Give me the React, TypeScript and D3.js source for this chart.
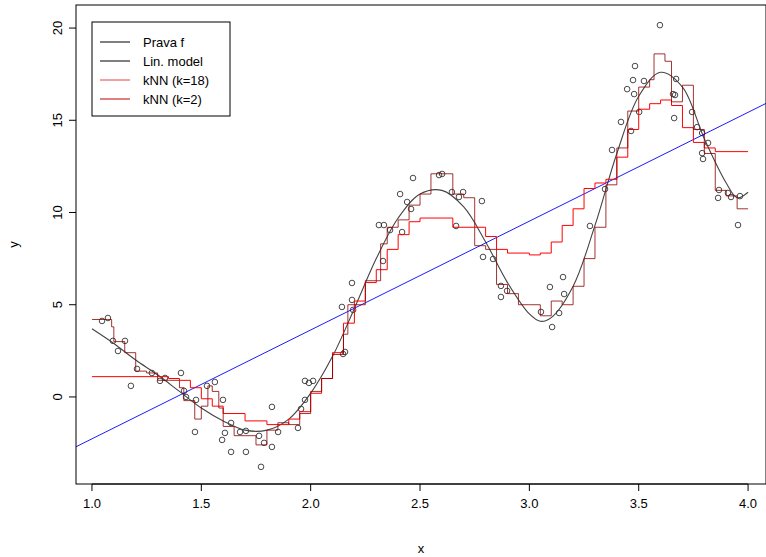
import React from "react"
import * as d3 from "d3"

const W = 766
const H = 557
const M = { top: 5, right: 0, bottom: 73, left: 76 }

// observed points [x, y]
const points: [number, number][] = [
  [1.046, 4.12], [1.073, 4.28], [1.096, 3.04], [1.151, 3.04], [1.119, 2.49], [1.206, 1.52],
  [1.178, 0.6], [1.274, 1.3], [1.311, 0.87], [1.334, 1.03], [1.407, 1.3], [1.421, 0.33],
  [1.43, 0.0], [1.471, -1.9], [1.476, -0.16], [1.526, 0.6], [1.562, 0.81], [1.599, -0.16],
  [1.636, -1.41], [1.608, -1.95], [1.595, -2.33], [1.636, -2.98], [1.677, -1.9], [1.704, -2.98],
  [1.704, -1.84], [1.764, -2.11], [1.787, -2.49], [1.773, -3.79], [1.823, -0.54], [1.823, -2.71],
  [1.851, -1.9], [1.942, -1.68], [1.974, 0.87], [1.974, -0.16], [1.992, 0.76], [2.011, 0.87],
  [1.956, -0.65], [2.148, 2.33], [2.157, 2.44], [2.143, 4.88], [2.194, 4.72], [2.189, 5.26],
  [2.189, 6.18], [2.331, 7.37], [2.312, 9.32], [2.335, 9.32], [2.363, 9.05], [2.418, 8.94],
  [2.409, 11.0], [2.441, 10.57], [2.459, 10.19], [2.468, 11.87], [2.587, 12.03], [2.601, 12.09],
  [2.646, 11.11], [2.697, 11.11], [2.678, 10.84], [2.783, 10.62], [2.665, 9.27], [2.788, 7.59],
  [2.834, 7.48], [2.87, 6.02], [2.87, 5.42], [2.898, 5.75], [3.053, 4.61], [3.094, 5.96],
  [3.104, 3.79], [3.136, 4.55], [3.154, 6.5], [3.159, 5.58], [3.277, 9.27], [3.346, 11.27],
  [3.378, 13.39], [3.419, 14.91], [3.465, 14.42], [3.502, 15.45], [3.447, 16.69], [3.479, 16.42],
  [3.474, 17.18], [3.483, 17.94], [3.524, 17.13], [3.597, 20.16], [3.671, 17.24], [3.657, 16.42],
  [3.666, 16.37], [3.662, 15.12], [3.744, 15.45], [3.767, 14.63], [3.79, 14.31], [3.817, 13.77],
  [3.79, 13.22], [3.794, 12.9], [3.867, 11.22], [3.863, 10.79], [3.908, 11.06], [3.922, 10.84],
  [3.963, 10.89], [3.954, 9.32],
]

const trueF: [number, number][] = [
  [1.0, 3.7], [1.1, 2.9], [1.2, 2.0], [1.3, 1.2], [1.4, 0.3], [1.5, -0.6], [1.6, -1.3], [1.7, -1.8],
  [1.8, -1.8], [1.9, -1.2], [2.0, 0.2], [2.1, 2.2], [2.2, 4.8], [2.3, 7.5], [2.4, 9.7], [2.5, 11.0],
  [2.6, 11.2], [2.7, 10.3], [2.8, 8.4], [2.9, 6.2], [3.0, 4.5], [3.05, 4.1], [3.1, 4.3], [3.2, 6.0],
  [3.3, 9.3], [3.4, 13.2], [3.5, 16.3], [3.6, 17.6], [3.7, 16.8], [3.8, 14.0], [3.9, 11.6],
  [3.95, 10.8], [4.0, 11.1],
]

const linModel = { intercept: -8.17, slope: 5.9 }

const knn18: [number, number][] = [
  [1.0, 1.1], [1.35, 1.0], [1.4, 0.9], [1.45, 0.5], [1.5, -0.1], [1.55, -0.5], [1.6, -0.9],
  [1.7, -1.3], [1.8, -1.5], [1.9, -1.2], [1.95, -0.8], [2.0, 0.2], [2.05, 1.0], [2.1, 2.4],
  [2.15, 4.0], [2.2, 5.2], [2.25, 6.2], [2.3, 6.9], [2.35, 8.0], [2.4, 8.8], [2.45, 9.5],
  [2.5, 9.7], [2.6, 9.7], [2.65, 9.2], [2.75, 9.2], [2.8, 8.7], [2.85, 8.0], [2.9, 7.8],
  [3.0, 7.7], [3.05, 7.8], [3.1, 8.4], [3.15, 9.3], [3.2, 10.2], [3.25, 11.3], [3.3, 11.6],
  [3.35, 11.8], [3.4, 13.0], [3.45, 14.5], [3.5, 15.6], [3.55, 15.9], [3.6, 16.1], [3.65, 15.8],
  [3.7, 14.6], [3.75, 13.8], [3.8, 13.5], [3.85, 13.3], [4.0, 13.3],
]

const knn2: [number, number][] = [
  [1.0, 4.2], [1.07, 4.2], [1.09, 3.8], [1.1, 3.0], [1.15, 2.4], [1.2, 1.4], [1.25, 1.3],
  [1.3, 0.9], [1.35, 0.9], [1.4, 0.5], [1.42, -0.2], [1.47, -1.2], [1.5, -0.5], [1.53, 0.6],
  [1.55, 0.3], [1.58, -0.6], [1.6, -1.6], [1.65, -2.1], [1.7, -2.1], [1.75, -2.6], [1.8, -1.8],
  [1.85, -1.4], [1.9, -1.5], [1.95, -0.9], [2.0, 0.3], [2.05, 1.0], [2.1, 2.3], [2.15, 3.4],
  [2.17, 5.0], [2.2, 5.0], [2.25, 6.3], [2.3, 6.3], [2.32, 8.3], [2.35, 9.2], [2.4, 9.6],
  [2.45, 10.4], [2.5, 11.0], [2.55, 12.1], [2.6, 12.1], [2.65, 11.0], [2.7, 10.8], [2.75, 8.2],
  [2.8, 8.0], [2.85, 6.1], [2.9, 5.6], [2.95, 5.0], [3.0, 5.0], [3.05, 4.4], [3.1, 5.2],
  [3.15, 5.0], [3.2, 6.0], [3.25, 7.5], [3.3, 9.2], [3.35, 11.5], [3.4, 13.5], [3.45, 15.5],
  [3.5, 16.8], [3.55, 17.2], [3.57, 18.6], [3.62, 18.2], [3.65, 16.0], [3.7, 16.9], [3.75, 14.5],
  [3.8, 13.2], [3.85, 11.2], [3.9, 10.9], [3.95, 10.2], [4.0, 10.2],
]

const xTicks = [1.0, 1.5, 2.0, 2.5, 3.0, 3.5, 4.0]
const yTicks = [0, 5, 10, 15, 20]

const legendItems = [
  { label: "Prava f", color: "#000000" },
  { label: "Lin. model", color: "#000000" },
  { label: "kNN (k=18)", color: "#e84040" },
  { label: "kNN (k=2)", color: "#c00000" },
]

const FONT = "Liberation Sans, Arial, sans-serif"

export default function App() {
  const x = d3.scaleLinear().domain([0.927, 4.082]).range([M.left, W - M.right])
  const y = d3.scaleLinear().domain([-4.72, 21.25]).range([H - M.bottom, M.top])
  const straight = d3.line<[number, number]>().x((d) => x(d[0])).y((d) => y(d[1]))
  const smooth = d3.line<[number, number]>().x((d) => x(d[0])).y((d) => y(d[1])).curve(d3.curveCatmullRom)
  const step = d3.line<[number, number]>().x((d) => x(d[0])).y((d) => y(d[1])).curve(d3.curveStepAfter)
  const [x0, x1] = x.domain()
  const lin: [number, number][] = [x0, x1].map((v) => [v, linModel.intercept + linModel.slope * v])
  const bottom = H - M.bottom

  return (
    <svg width={W} height={H} style={{ position: "absolute", left: 0, top: 0, background: "#fff" }} fontFamily={FONT}>
      <defs>
        <clipPath id="plot">
          <rect x={M.left} y={M.top} width={W - M.left - M.right} height={bottom - M.top} />
        </clipPath>
      </defs>
      <g clipPath="url(#plot)">
        {points.map((p, i) => (
          <circle key={i} cx={x(p[0])} cy={y(p[1])} r={2.8} fill="none" stroke="#333" strokeWidth={0.9} />
        ))}
        <path d={smooth(trueF) ?? ""} fill="none" stroke="#444" strokeWidth={1.1} />
        <path d={straight(lin) ?? ""} fill="none" stroke="#0000ff" strokeWidth={0.9} />
        <path d={step(knn18) ?? ""} fill="none" stroke="#ff0000" strokeWidth={1} />
        <path d={step(knn2) ?? ""} fill="none" stroke="#8b0000" strokeOpacity={0.8} strokeWidth={1} />
      </g>
      <rect x={M.left} y={M.top} width={W - M.left - M.right} height={bottom - M.top} fill="none" stroke="#000" />
      {xTicks.map((t) => (
        <g key={t}>
          <line x1={x(t)} x2={x(t)} y1={bottom} y2={bottom + 7} stroke="#000" />
          <text x={x(t)} y={bottom + 24} textAnchor="middle" fontSize={13}>{t.toFixed(1)}</text>
        </g>
      ))}
      <line x1={x(1)} x2={x(4)} y1={bottom} y2={bottom} stroke="#000" />
      {yTicks.map((t) => (
        <g key={t}>
          <line x1={M.left - 7} x2={M.left} y1={y(t)} y2={y(t)} stroke="#000" />
          <text transform={`translate(${M.left - 14},${y(t)}) rotate(-90)`} textAnchor="middle" fontSize={13}>{t}</text>
        </g>
      ))}
      <text x={(M.left + W) / 2} y={553} textAnchor="middle" fontSize={13}>x</text>
      <text transform={`translate(18,${(M.top + bottom) / 2}) rotate(-90)`} textAnchor="middle" fontSize={13}>y</text>
      <g>
        <rect x={92} y={22} width={138} height={94} fill="#fff" stroke="#000" />
        {legendItems.map((it, i) => (
          <g key={it.label}>
            <line x1={100} x2={130} y1={42 + i * 19} y2={42 + i * 19} stroke={it.color} />
            <text x={143} y={47 + i * 19} fontSize={13}>{it.label}</text>
          </g>
        ))}
      </g>
    </svg>
  )
}
